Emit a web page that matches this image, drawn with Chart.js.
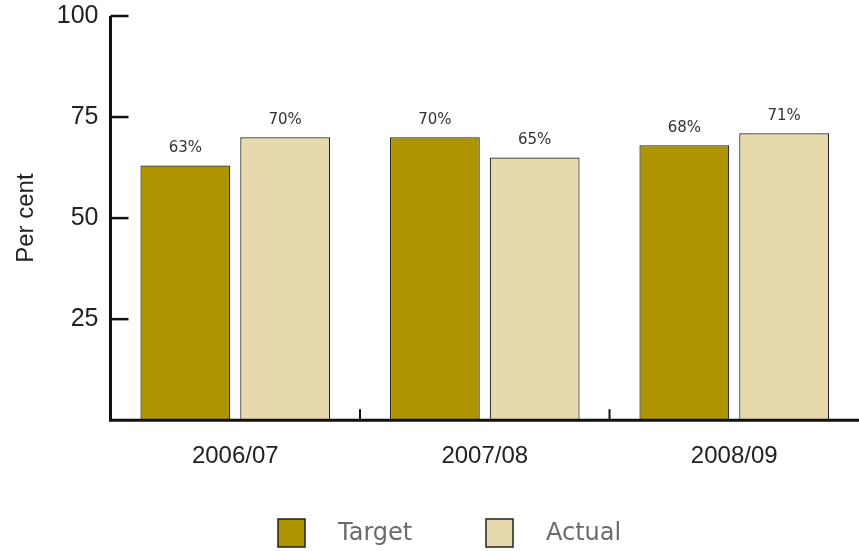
<!DOCTYPE html>
<html><head><meta charset="utf-8">
<script src="https://cdn.jsdelivr.net/npm/chart.js@4"></script>
<style>html,body{margin:0;padding:0;background:#fff;overflow:hidden}#wrap{width:859px;height:562px;position:relative;margin-top:-11px}</style>
</head><body><div id="wrap"><canvas id="c"></canvas></div>
<script>
const categories = ['2006/07', '2007/08', '2008/09'];
const targetValues = [63, 70, 68];
const actualValues = [70, 65, 71];
const seriesNames = ['Target', 'Actual'];
const yTicks = [0, 25, 50, 75, 100];

const colTarget = '#AE9500';
const colActual = '#E6D9AC';

const innerTicks = {
  id: 'innerTicks',
  afterDatasetsDraw(chart) {
    const ctx = chart.ctx, x = chart.scales.x, y = chart.scales.y;
    ctx.save();
    ctx.strokeStyle = '#111';
    ctx.lineWidth = 2.5;
    yTicks.forEach(v => {
      if (v === 0) return;
      const py = y.getPixelForValue(v);
      ctx.beginPath(); ctx.moveTo(x.left, py); ctx.lineTo(x.left + 18, py); ctx.stroke();
    });
    ctx.lineWidth = 2;
    for (let i = 0; i < categories.length - 1; i++) {
      const px = (x.getPixelForTick(i) + x.getPixelForTick(i + 1)) / 2;
      ctx.beginPath(); ctx.moveTo(px, y.bottom); ctx.lineTo(px, y.bottom - 11); ctx.stroke();
    }
    ctx.lineWidth = 3;
    ctx.beginPath();
    ctx.moveTo(x.left, y.getPixelForValue(100));
    ctx.lineTo(x.left, y.bottom);
    ctx.lineTo(chart.width, y.bottom);
    ctx.stroke();
    ctx.fillStyle = '#333';
    ctx.font = '15px "DejaVu Sans"';
    ctx.textAlign = 'center';
    ctx.textBaseline = 'bottom';
    chart.data.datasets.forEach((ds, di) => {
      chart.getDatasetMeta(di).data.forEach((bar, i) => {
        ctx.fillText(ds.data[i] + '%', bar.x, bar.y - 10);
      });
    });
    const items = chart.data.datasets;
    const starts = [278, 486];
    ctx.font = '24px "DejaVu Sans"';
    ctx.textAlign = 'left';
    ctx.textBaseline = 'middle';
    items.forEach((ds, i) => {
      const bx = starts[i], by = 530;
      ctx.fillStyle = ds.backgroundColor;
      ctx.fillRect(bx, by, 27, 28);
      ctx.lineWidth = 1.5; ctx.strokeStyle = '#222';
      ctx.strokeRect(bx, by, 27, 28);
      ctx.fillStyle = '#6b6b6b';
      ctx.fillText(ds.label, bx + 60, by + 15);
    });
    ctx.restore();
  }
};

new Chart(document.getElementById('c'), {
  type: 'bar',
  data: {
    labels: categories,
    datasets: [
      { label: seriesNames[0], data: targetValues, backgroundColor: colTarget, borderColor: '#222', borderWidth: 1.2, borderSkipped: false },
      { label: seriesNames[1], data: actualValues, backgroundColor: colActual, borderColor: '#222', borderWidth: 1.2, borderSkipped: false }
    ]
  },
  options: {
    responsive: true, maintainAspectRatio: false, animation: false,
    layout: { padding: { top: 0, right: 0, bottom: 58, left: 0 } },
    plugins: { legend: { display: false }, tooltip: { enabled: false } },
    datasets: { bar: { categoryPercentage: 0.8, barPercentage: 0.9 } },
    scales: {
      x: {
        grid: { display: false, drawTicks: false },
        border: { display: false },
        ticks: { padding: 22, color: '#222', font: { family: '"Liberation Sans", Arial', size: 24 } }
      },
      y: {
        min: 0, max: 100,
        afterBuildTicks(s) { s.ticks = yTicks.map(v => ({ value: v })); },
        grid: { display: false, drawTicks: false },
        border: { display: false },
        ticks: { padding: 12, color: '#222', font: { family: '"Liberation Sans", Arial', size: 25 },
          callback: v => v === 0 ? '' : v },
        title: { display: true, text: 'Per cent', color: '#222', padding: { top: 12, bottom: 4 },
          font: { family: '"Liberation Sans", Arial', size: 24 } }
      }
    }
  },
  plugins: [innerTicks]
});
</script></body></html>
